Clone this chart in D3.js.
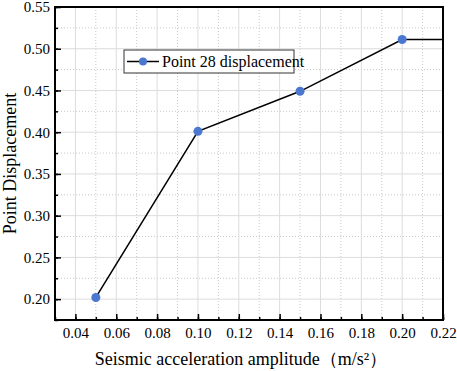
<!DOCTYPE html>
<html><head><meta charset="utf-8">
<script src="https://cdn.jsdelivr.net/npm/d3@7"></script>
<style>body{margin:0;background:#fff}</style>
</head><body>
<svg id="c" width="457" height="371"></svg>
<script>
const xValues = [0.05, 0.10, 0.15, 0.20, 0.25];
const yValues = [0.202, 0.401, 0.449, 0.511, 0.511];
const seriesName = "Point 28 displacement";
const xTicks = [0.04,0.06,0.08,0.10,0.12,0.14,0.16,0.18,0.20,0.22];
const yTicks = [0.20,0.25,0.30,0.35,0.40,0.45,0.50,0.55];
const xTitle = "Seismic acceleration amplitude（m/s²）";
const yTitle = "Point Displacement";

const FONT = '"Liberation Serif"';
const svg = d3.select("#c");
const m = {l:55, t:7, r:443, b:320};
const x = d3.scaleLinear().domain([0.03,0.22]).range([m.l,m.r]);
const y = d3.scaleLinear().domain([0.175,0.55]).range([m.b,m.t]);

const xMinor = d3.range(0.03,0.2201,0.01).map(v=>+v.toFixed(3));
const yMinor = d3.range(0.175,0.5501,0.025).map(v=>+v.toFixed(4));

const g = svg.append("g");
g.selectAll(".xm").data(xMinor.filter(v=>!xTicks.some(t=>Math.abs(t-v)<1e-6))).join("line")
 .attr("x1",d=>x(d)).attr("x2",d=>x(d)).attr("y1",m.t).attr("y2",m.b)
 .attr("stroke","#c8c8c8").attr("stroke-width",1).attr("stroke-dasharray","1,2");
g.selectAll(".ym").data(yMinor.filter(v=>!yTicks.some(t=>Math.abs(t-v)<1e-6))).join("line")
 .attr("y1",d=>y(d)).attr("y2",d=>y(d)).attr("x1",m.l).attr("x2",m.r)
 .attr("stroke","#c8c8c8").attr("stroke-width",1).attr("stroke-dasharray","1,2");
g.selectAll(".xg").data(xTicks).join("line")
 .attr("x1",d=>x(d)).attr("x2",d=>x(d)).attr("y1",m.t).attr("y2",m.b)
 .attr("stroke","#dcdcdc").attr("stroke-width",1);
g.selectAll(".yg").data(yTicks).join("line")
 .attr("y1",d=>y(d)).attr("y2",d=>y(d)).attr("x1",m.l).attr("x2",m.r)
 .attr("stroke","#dcdcdc").attr("stroke-width",1);

const xAx = svg.append("g").attr("transform",`translate(0,${m.b})`)
 .call(d3.axisBottom(x).tickValues(xTicks).tickSize(-6).tickPadding(7).tickFormat(d3.format(".2f")));
const xAxm = svg.append("g").attr("transform",`translate(0,${m.b})`)
 .call(d3.axisBottom(x).tickValues(xMinor).tickSize(-3).tickFormat(""));
const yAx = svg.append("g").attr("transform",`translate(${m.l},0)`)
 .call(d3.axisLeft(y).tickValues(yTicks).tickSize(-6).tickPadding(5).tickFormat(d3.format(".2f")));
const yAxm = svg.append("g").attr("transform",`translate(${m.l},0)`)
 .call(d3.axisLeft(y).tickValues(yMinor).tickSize(-3).tickFormat(""));
[xAx,xAxm,yAx,yAxm].forEach(a=>{
  a.attr("font-family",null);
  a.select(".domain").remove();
  a.selectAll(".tick line").attr("stroke","#000").attr("stroke-width",1.5);
  a.selectAll("text").style("font-family",FONT).style("font-size","15px").attr("fill","#000");
});
svg.append("rect").attr("x",m.l).attr("y",m.t).attr("width",m.r-m.l).attr("height",m.b-m.t)
 .attr("fill","none").attr("stroke","#000").attr("stroke-width",2);

svg.append("clipPath").attr("id","clip").append("rect")
 .attr("x",m.l).attr("y",m.t).attr("width",m.r-m.l).attr("height",m.b-m.t);
const data = xValues.map((v,i)=>({x:v,y:yValues[i]}));
const pg = svg.append("g").attr("clip-path","url(#clip)");
pg.append("path").datum(data)
 .attr("d",d3.line().x(d=>x(d.x)).y(d=>y(d.y)))
 .attr("fill","none").attr("stroke","#000").attr("stroke-width",1.5);
pg.selectAll("circle").data(data).join("circle")
 .attr("cx",d=>x(d.x)).attr("cy",d=>y(d.y)).attr("r",4.5).attr("fill","#4a78d0");

const lg = svg.append("g");
lg.append("rect").attr("x",124).attr("y",50).attr("width",170).attr("height",23)
 .attr("fill","#fff").attr("stroke","#333").attr("stroke-width",1);
lg.append("line").attr("x1",127).attr("x2",159).attr("y1",61.5).attr("y2",61.5)
 .attr("stroke","#000").attr("stroke-width",1.5);
lg.append("circle").attr("cx",143).attr("cy",61.5).attr("r",4).attr("fill","#4a78d0");
lg.append("text").attr("x",162).attr("y",66.5).text(seriesName)
 .style("font-family",FONT).style("font-size","16px").attr("fill","#000");

svg.append("text").attr("x",241).attr("y",365).attr("text-anchor","middle").text(xTitle)
 .style("font-family",FONT).style("font-size","18px").attr("fill","#000");
svg.append("text").attr("transform",`translate(16,${(m.t+m.b)/2}) rotate(-90)`)
 .attr("text-anchor","middle").text(yTitle)
 .style("font-family",FONT).style("font-size","18px").attr("fill","#000");
</script>
</body></html>
